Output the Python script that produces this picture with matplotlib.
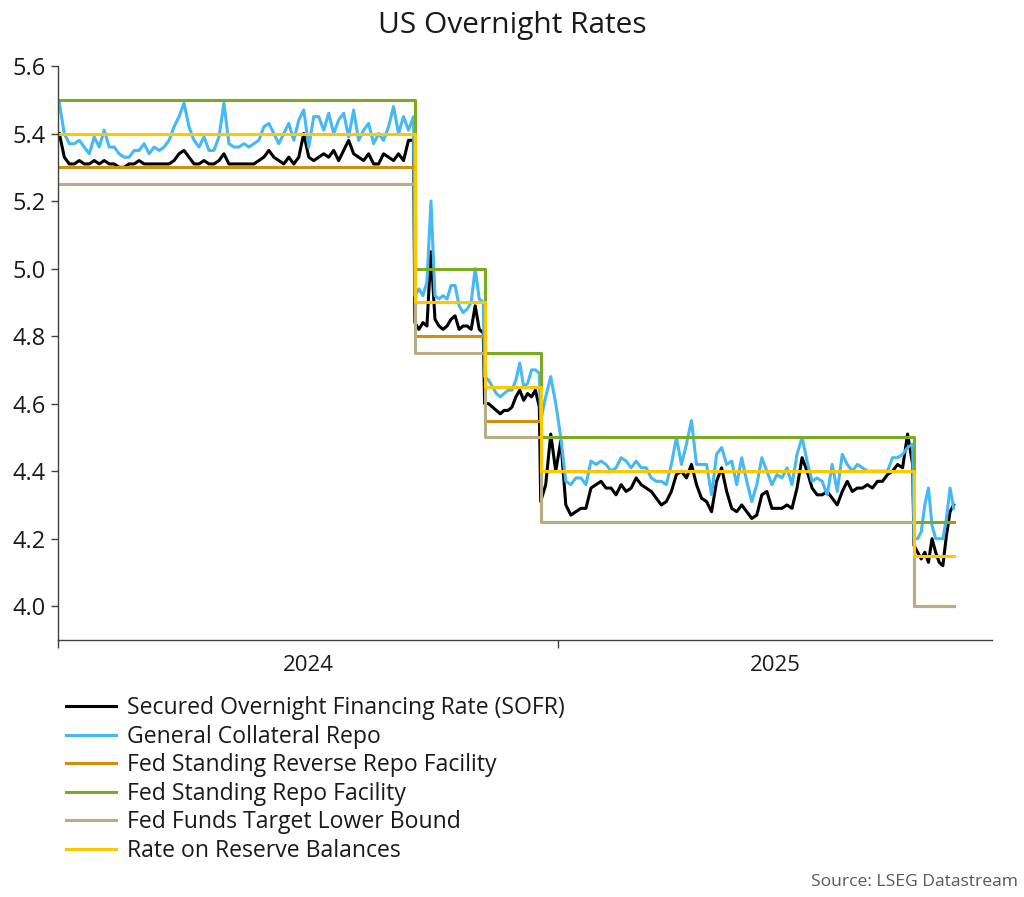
import matplotlib
matplotlib.use("Agg")
import matplotlib.pyplot as plt
import matplotlib.dates as mdates
import matplotlib.ticker as mticker
import pandas as pd

OUT = "out.png"
plt.rcParams["font.family"] = ["Open Sans", "DejaVu Sans"]

INK = "#1a1a1a"
AXIS_INK = "#404040"
SOURCE_INK = "#595959"
SOFR_COLOR = "#000000"
GC_COLOR = "#45b8f5"
RRP_COLOR = "#d18f0c"
SRF_COLOR = "#7aab22"
LOWER_COLOR = "#b7ae88"
IORB_COLOR = "#fcc800"

# market rates
SEGMENT_STARTS = ["2024-01-02", "2024-09-18", "2024-11-08", "2024-12-19", "2025-09-18"]
SEGMENT_ENDS = ["2024-09-17", "2024-11-07", "2024-12-18", "2025-09-17", "2025-10-17"]

SOFR_P1 = [5.40, 5.33, 5.31, 5.31, 5.32, 5.31, 5.31, 5.32, 5.31, 5.32,
           5.31, 5.31, 5.30, 5.30, 5.31, 5.31, 5.32, 5.31, 5.31, 5.31,
           5.31, 5.31, 5.31, 5.32, 5.34, 5.35, 5.33, 5.31, 5.31, 5.32,
           5.31, 5.31, 5.32, 5.34, 5.31, 5.31, 5.31, 5.31, 5.31, 5.31,
           5.32, 5.33, 5.35, 5.33, 5.32, 5.31, 5.33, 5.31, 5.33, 5.40,
           5.33, 5.32, 5.33, 5.34, 5.33, 5.35, 5.32, 5.35, 5.38, 5.34,
           5.33, 5.32, 5.34, 5.31, 5.31, 5.34, 5.33, 5.32, 5.34, 5.32,
           5.38, 5.38]
SOFR_P2 = [4.84, 4.82, 4.84, 4.83, 5.05, 4.85, 4.83, 4.82, 4.83, 4.85,
           4.86, 4.82, 4.83, 4.83, 4.82, 4.89, 4.82, 4.81]
SOFR_P3 = [4.60, 4.60, 4.59, 4.58, 4.57, 4.58, 4.58, 4.59, 4.62, 4.64,
           4.61, 4.63, 4.62, 4.64, 4.59]
SOFR_P4 = [4.31, 4.36, 4.51, 4.40, 4.49, 4.30, 4.27, 4.28, 4.29, 4.29,
           4.35, 4.36, 4.37, 4.35, 4.35, 4.33, 4.36, 4.34, 4.35, 4.38,
           4.36, 4.35, 4.34, 4.32, 4.30, 4.31, 4.34, 4.39, 4.40, 4.38,
           4.42, 4.36, 4.32, 4.31, 4.28, 4.37, 4.41, 4.34, 4.29, 4.28,
           4.30, 4.28, 4.26, 4.27, 4.33, 4.34, 4.29, 4.29, 4.29, 4.30,
           4.29, 4.35, 4.44, 4.40, 4.35, 4.33, 4.33, 4.34, 4.32, 4.30,
           4.34, 4.37, 4.34, 4.35, 4.35, 4.36, 4.35, 4.37, 4.37, 4.39,
           4.40, 4.42, 4.41, 4.51, 4.42]
SOFR_P5 = [4.18, 4.16, 4.14, 4.16, 4.13, 4.20, 4.16, 4.13, 4.12, 4.21,
           4.28, 4.30]

GC_P1 = [5.49, 5.40, 5.37, 5.37, 5.38, 5.36, 5.34, 5.39, 5.36, 5.41,
         5.36, 5.36, 5.34, 5.33, 5.33, 5.35, 5.35, 5.37, 5.34, 5.36,
         5.35, 5.36, 5.38, 5.42, 5.45, 5.49, 5.42, 5.38, 5.36, 5.39,
         5.35, 5.35, 5.39, 5.49, 5.37, 5.36, 5.36, 5.37, 5.36, 5.37,
         5.38, 5.42, 5.43, 5.40, 5.37, 5.40, 5.43, 5.38, 5.44, 5.47,
         5.36, 5.45, 5.45, 5.41, 5.46, 5.40, 5.44, 5.46, 5.39, 5.47,
         5.38, 5.41, 5.43, 5.37, 5.40, 5.38, 5.42, 5.48, 5.40, 5.45,
         5.41, 5.45]
GC_P2 = [4.92, 4.94, 4.92, 4.96, 5.20, 4.92, 4.91, 4.92, 4.91, 4.95,
         4.95, 4.89, 4.87, 4.88, 4.90, 5.00, 4.91, 4.90]
GC_P3 = [4.68, 4.67, 4.65, 4.63, 4.62, 4.63, 4.64, 4.64, 4.67, 4.72,
         4.65, 4.66, 4.70, 4.70, 4.69]
GC_P4 = [4.55, 4.62, 4.68, 4.60, 4.50, 4.37, 4.36, 4.38, 4.38, 4.36,
         4.43, 4.42, 4.43, 4.42, 4.40, 4.41, 4.44, 4.43, 4.41, 4.43,
         4.41, 4.41, 4.38, 4.37, 4.37, 4.36, 4.42, 4.50, 4.42, 4.48,
         4.55, 4.42, 4.42, 4.42, 4.33, 4.45, 4.47, 4.42, 4.43, 4.36,
         4.44, 4.37, 4.31, 4.36, 4.44, 4.40, 4.36, 4.39, 4.38, 4.41,
         4.36, 4.45, 4.50, 4.43, 4.37, 4.38, 4.37, 4.33, 4.42, 4.34,
         4.45, 4.42, 4.40, 4.42, 4.41, 4.40, 4.40, 4.40, 4.40, 4.40,
         4.44, 4.44, 4.45, 4.47, 4.48]
GC_P5 = [4.20, 4.20, 4.22, 4.30, 4.35, 4.24, 4.20, 4.20, 4.20, 4.26,
         4.35, 4.29]

# administered rates, effective from each date
POLICY_DATES = ["2024-01-02", "2024-09-18", "2024-11-08", "2024-12-19", "2025-09-18", "2025-10-17"]
RRP = [5.30, 4.80, 4.55, 4.25, 4.00, 4.00]
SRF = [5.50, 5.00, 4.75, 4.50, 4.25, 4.25]
LOWER_BOUND = [5.25, 4.75, 4.50, 4.25, 4.00, 4.00]
IORB = [5.40, 4.90, 4.65, 4.40, 4.15, 4.15]

X_START, X_END = "2024-01-01", "2025-11-14"
Y_TICKS = [4.0, 4.2, 4.4, 4.6, 4.8, 5.0, 5.2, 5.4, 5.6]


def market_series(parts):
    dates, values = [], []
    for start, end, vals in zip(SEGMENT_STARTS, SEGMENT_ENDS, parts):
        dates.extend(pd.date_range(start, end, periods=len(vals)))
        values.extend(vals)
    return dates, values


def main():
    fig = plt.figure(figsize=(10.24, 8.97), dpi=100, facecolor="white")
    ax = fig.add_axes([0.0566, 0.2865, 0.9121, 0.6399])

    sofr_d, sofr_v = market_series([SOFR_P1, SOFR_P2, SOFR_P3, SOFR_P4, SOFR_P5])
    gc_d, gc_v = market_series([GC_P1, GC_P2, GC_P3, GC_P4, GC_P5])
    pdates = pd.to_datetime(POLICY_DATES)

    lw = 2.2
    ax.plot(sofr_d, sofr_v, color=SOFR_COLOR, lw=lw, label="Secured Overnight Financing Rate (SOFR)")
    ax.plot(gc_d, gc_v, color=GC_COLOR, lw=lw, label="General Collateral Repo")
    ax.plot(pdates, RRP, color=RRP_COLOR, lw=lw, drawstyle="steps-post",
            label="Fed Standing Reverse Repo Facility")
    ax.plot(pdates, SRF, color=SRF_COLOR, lw=lw, drawstyle="steps-post",
            label="Fed Standing Repo Facility")
    ax.plot(pdates, LOWER_BOUND, color=LOWER_COLOR, lw=lw, drawstyle="steps-post",
            label="Fed Funds Target Lower Bound")
    ax.plot(pdates, IORB, color=IORB_COLOR, lw=lw, drawstyle="steps-post",
            label="Rate on Reserve Balances")

    x0, x1 = pd.Timestamp(X_START), pd.Timestamp(X_END)
    ax.set_xlim(x0, x1)
    ax.set_ylim(3.9, 5.6)

    # year ticks at year starts, labels centred on the visible part of each year
    ax.xaxis.set_major_locator(mdates.YearLocator())
    ax.xaxis.set_major_formatter(mticker.NullFormatter())
    mids, labels = [], []
    for year in range(x0.year, x1.year + 1):
        a = max(pd.Timestamp(f"{year}-01-01"), x0)
        b = min(pd.Timestamp(f"{year + 1}-01-01"), x1)
        mids.append(mdates.date2num(a + (b - a) / 2))
        labels.append(str(year))
    ax.set_xticks(mids, minor=True)
    ax.set_xticklabels(labels, minor=True)
    ax.tick_params(axis="x", which="major", length=6, width=1, color=AXIS_INK)
    ax.tick_params(axis="x", which="minor", length=0, pad=11, labelsize=16, labelcolor=INK)

    ax.set_yticks(Y_TICKS)
    ax.yaxis.set_major_formatter(mticker.FormatStrFormatter("%.1f"))
    ax.tick_params(axis="y", length=5, width=1, color=AXIS_INK, labelsize=17,
                   labelcolor=INK, pad=4)

    for side in ("top", "right"):
        ax.spines[side].set_visible(False)
    for side in ("left", "bottom"):
        ax.spines[side].set_color(AXIS_INK)
        ax.spines[side].set_linewidth(1.0)

    fig.text(0.5, 1 - 25 / 897, "US Overnight Rates", ha="center", va="center",
             fontsize=21.5, color=INK)

    handles, labs = ax.get_legend_handles_labels()
    fig.legend(handles, labs, loc="upper left", bbox_to_anchor=(0.0645, 1 - 696 / 897),
               frameon=False, fontsize=16.6, handlelength=2.15, handletextpad=0.5,
               labelspacing=0.2, borderpad=0, borderaxespad=0, labelcolor=INK)

    fig.text(1018 / 1024, 1 - 882 / 897, "Source: LSEG Datastream", ha="right", va="center",
             fontsize=12.6, color=SOURCE_INK)

    fig.savefig(OUT, dpi=100, facecolor="white")


if __name__ == "__main__":
    main()
